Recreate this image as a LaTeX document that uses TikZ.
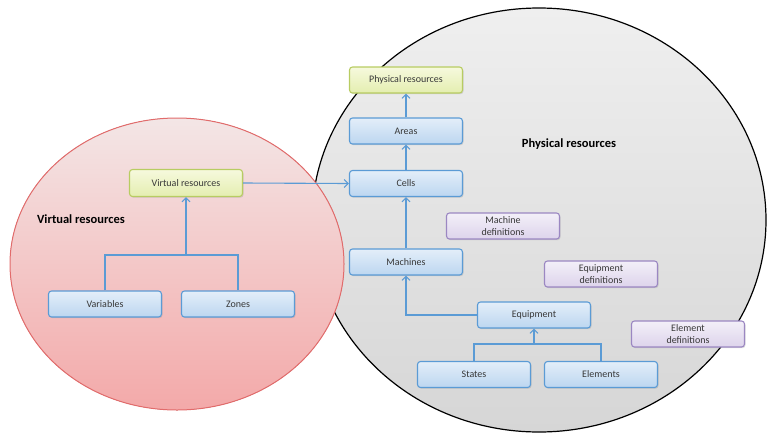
\documentclass[tikz,border=0pt]{standalone}
\usepackage{fontspec}
\setmainfont{Carlito}
\usetikzlibrary{arrows.meta,shadows,calc}
\definecolor{linkblue}{HTML}{5B9BD5}
\definecolor{boxblueA}{HTML}{E3EEF9}
\definecolor{boxblueB}{HTML}{BCD6F0}
\definecolor{boxgreenA}{HTML}{F6F9DD}
\definecolor{boxgreenB}{HTML}{E4EEB0}
\definecolor{boxgreenD}{HTML}{B8CC62}
\definecolor{boxpurpA}{HTML}{F3EFF8}
\definecolor{boxpurpB}{HTML}{DDD4EB}
\definecolor{boxpurpD}{HTML}{9B87C2}
\definecolor{pinkA}{HTML}{F3E6E6}
\definecolor{pinkB}{HTML}{F3A9A9}
\definecolor{pinkD}{HTML}{E26B6B}
\definecolor{greyA}{HTML}{EFEFEF}
\definecolor{greyB}{HTML}{D6D6D6}
\definecolor{txt}{HTML}{383838}
\tikzset{
  base/.style={rounded corners=3pt, minimum width=113pt, minimum height=26pt,
    inner sep=1pt, align=center, font=\fontsize{10}{12.5}\selectfont, text=txt,
    line width=1.1pt,
    drop shadow={shadow xshift=1pt, shadow yshift=-1.2pt, opacity=0.25}},
  bluebox/.style={base, draw=linkblue, top color=boxblueA, bottom color=boxblueB},
  greenbox/.style={base, draw=boxgreenD, top color=boxgreenA, bottom color=boxgreenB},
  purplebox/.style={base, draw=boxpurpD, top color=boxpurpA, bottom color=boxpurpB},
  link/.style={draw=linkblue, line width=1.1pt},
  arr/.style={link, -{Straight Barb[length=4pt, width=8pt, line width=1.1pt]}},
  title/.style={font=\fontsize{12.5}{13}\selectfont\bfseries, text=black}
}
\begin{document}
\begin{tikzpicture}[x=1pt, y=-1pt]
\useasboundingbox (0,0) rectangle (767,434);
% physical resources region
\shade[top color=greyA, bottom color=greyB] (539,220) ellipse [x radius=227, y radius=212];
\draw[black, line width=1.2pt] (539,220) ellipse [x radius=227, y radius=212];
% virtual resources region (on top)
\fill[top color=pinkA, bottom color=pinkB] (177,264) ellipse [x radius=167, y radius=146];
\draw[pinkD, line width=1pt] (177,264) ellipse [x radius=167, y radius=146];

\node[title] (vtitle) at (81,219) {Virtual resources};
\node[title] (ptitle) at (569,144) {Physical resources};

% virtual side
\node[greenbox, minimum height=27pt] (vres) at (186,183) {Virtual resources};
\node[bluebox] (vars) at (105,304) {Variables};
\node[bluebox] (zones) at (238,304) {Zones};

% physical side
\node[greenbox] (pres) at (406,80) {Physical resources};
\node[bluebox] (areas) at (406,131) {Areas};
\node[bluebox] (cells) at (406,183.5) {Cells};
\node[bluebox] (machines) at (406,262) {Machines};
\node[bluebox] (equip) at (534,315) {Equipment};
\node[bluebox] (states) at (474,374.5) {States};
\node[bluebox] (elems) at (601,374.5) {Elements};
\node[purplebox] (mdef) at (503,226) {Machine\\definitions};
\node[purplebox] (edef) at (601,274) {Equipment\\definitions};
\node[purplebox] (eldef) at (688,334) {Element\\definitions};

% connectors
\coordinate (vjoin) at (vres.south |- 0,255);
\draw[link] (vars.north) |- (zones.north |- vjoin) -- (zones.north);
\draw[arr] (vjoin) -- (vres.south);
\draw[arr] (vres.east) -- (cells.west);
\draw[arr] (cells.north) -- (areas.south);
\draw[arr] (areas.north) -- (pres.south);
\draw[arr] (machines.north) -- (cells.south);
\draw[arr] (equip.west) -| (machines.south);
\coordinate (ejoin) at (equip.south |- 0,344);
\draw[link] (states.north) |- (elems.north |- ejoin) -- (elems.north);
\draw[arr] (ejoin) -- (equip.south);
\end{tikzpicture}
\end{document}
